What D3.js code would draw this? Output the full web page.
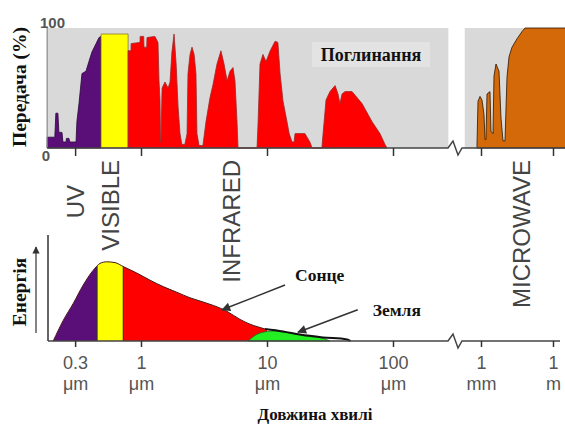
<!DOCTYPE html>
<html>
<head>
<meta charset="utf-8">
<script src="https://cdn.jsdelivr.net/npm/d3@7"></script>
<style>
  body { margin: 0; background: #fff; }
  svg { display: block; }
  .serif { font-family: "Liberation Serif", "Times New Roman", serif; font-weight: bold; fill: #111; }
  .band { font-family: "Liberation Sans", Arial, sans-serif; font-size: 24px; fill: #444; }
</style>
</head>
<body>
<div id="chart"></div>
<script>
// atmospheric transmission, [wavelength µm, %]
const uvTransmission = [[0.18,9],[0.207,9],[0.211,29],[0.219,29],[0.223,13],[0.236,13],[0.24,5],[0.254,5],[0.256,8],[0.268,8],[0.272,5],[0.305,5],[0.31,22],[0.322,37],[0.34,62],[0.366,64],[0.386,72],[0.408,80],[0.44,87],[0.464,92],[0.482,93]];
const visibleTransmission = [[0.482,95],[0.79,95]];
const infraredTransmission = [[0.79,81],[0.833,81],[0.835,87],[0.982,88],[0.985,93],[1.05,93],[1.056,84],[1.11,84],[1.116,92],[1.29,93],[1.364,88],[1.39,56],[1.415,40],[1.43,5],[1.44,5],[1.47,50],[1.55,55],[1.64,50],[1.7,55],[1.76,80],[1.83,95],[1.9,70],[1.97,34],[2.04,12],[2.11,3],[2.23,3],[2.32,12],[2.36,62],[2.45,78],[2.54,84],[2.64,78],[2.73,62],[2.78,12],[2.89,2],[3.1,2],[3.28,22],[3.53,42],[3.73,53],[4.01,70],[4.31,81],[4.56,70],[4.82,56],[5.09,64],[5.37,67],[5.57,56],[5.78,22],[5.89,0],[8.33,0],[8.49,20],[8.8,70],[9.29,78],[9.82,72],[10.6,81],[11.6,89],[12.2,88],[12.7,62],[13.4,39],[14.4,22],[15,12],[15.8,5],[16.4,5],[16.7,12],[20,12],[21.9,5],[22.8,0],[27.3,0],[27.4,3],[29.4,40],[31.6,47],[34.7,52],[36.6,45],[37.9,37],[39.4,45],[41.6,47],[47.3,47],[56.8,37],[68.1,22],[78.8,12],[86.4,3],[89.6,0]];
// [wavelength mm, %]
const microwaveTransmission = [[0.68,2],[0.75,39],[0.91,43],[1.1,40],[1.33,28],[1.47,7],[1.61,7],[1.78,45],[2.37,47],[2.61,14],[3.16,12],[3.48,60],[4.22,70],[5.62,64],[6.81,25],[8.25,6],[10,6],[12.1,59],[14.7,76],[19.6,84],[31.6,91],[51.1,97],[68.1,100],[5000,100]];

// radiated energy, [wavelength µm, relative]
const sunEnergy = [[0.201,0],[0.242,26],[0.29,47],[0.348,70],[0.431,91],[0.473,97],[0.535,99],[0.622,98],[0.724,93],[0.925,85],[1.18,76],[1.5,68],[1.92,61],[2.45,54],[2.94,50],[4.82,37],[6.11,27],[7.33,21],[8.33,18],[9.64,15],[13.4,12],[18.3,8],[27.8,4.5],[43.2,2],[46,0]];
const earthEnergy = [[7.07,0],[8.03,7],[9.29,11],[11.2,12.5],[15.2,10],[20.8,6],[27.8,3.5],[29.9,1.5],[31.6,0]];
const sunBands = [
  { from: 0.2, to: 0.448, color: "#5a0f78" },
  { from: 0.448, to: 0.724, color: "#ffff00" },
  { from: 0.724, to: 10, color: "#ff0000" }
];

const umTicks = [0.3, 1, 10, 100];
const umTickLabels = ["0.3", "1", "10", "100"];
const mmTicks = [1, 1000];
const mmTickLabels = ["1", "1"];
const mmTickUnits = ["mm", "m"];
const bandNames = ["UV", "VISIBLE", "INFRARED", "MICROWAVE"];

const width = 565, height = 424;
const svg = d3.select("#chart").append("svg")
  .attr("width", width).attr("height", height);

const xUm = d3.scaleLog().domain([1, 100]).range([141, 393]);
const xMm = d3.scaleLog().domain([1, 1000]).range([481, 553]);
const yTrans = d3.scaleLinear().domain([0, 100]).range([148, 28]);
const yEnergy = d3.scaleLinear().domain([0, 100]).range([341, 261]);

const defs = svg.append("defs");
defs.append("marker").attr("id", "head")
  .attr("viewBox", "0 0 10 10").attr("refX", 9).attr("refY", 5)
  .attr("markerWidth", 7).attr("markerHeight", 6).attr("orient", "auto")
  .append("path").attr("d", "M0,0L10,5L0,10z").attr("fill", "#333");

function breakLine(g, y, x0, x1) {
  const bx = 449;
  g.append("path")
    .attr("d", d3.line()([[x0, y], [bx - 1, y], [bx + 4, y - 7], [bx + 9, y + 7], [bx + 13, y], [x1, y]]))
    .attr("fill", "none").attr("stroke", "#444").attr("stroke-width", 1.5);
}

function ticks(g, scale, values, y, size, labels, units) {
  const axis = d3.axisBottom(scale).tickValues(values).tickSize(size).tickSizeOuter(0).tickFormat("");
  const a = g.append("g").attr("transform", `translate(0,${y})`).call(axis);
  a.select(".domain").remove();
  a.selectAll(".tick text").remove();
  a.selectAll(".tick line").attr("stroke", "#333").attr("stroke-width", 1.5);
  if (!labels) return;
  const t = a.selectAll(".tick").append("text")
    .attr("font-family", "\"Liberation Sans\", Arial, sans-serif").attr("font-size", 18)
    .attr("fill", "#555").attr("text-anchor", "middle").attr("y", 28);
  t.append("tspan").attr("x", 0).text((d, i) => labels[i]);
  t.append("tspan").attr("x", 0).attr("dy", 21).text((d, i) => units[i]);
}

// ---------- top: transmission ----------
const topG = svg.append("g");
topG.append("rect")
  .attr("x", xUm(0.18)).attr("y", yTrans(100))
  .attr("width", xUm(275) - xUm(0.18)).attr("height", yTrans(0) - yTrans(100))
  .attr("fill", "#d9d9d9");
topG.append("rect")
  .attr("x", xMm(0.21)).attr("y", yTrans(100))
  .attr("width", width - xMm(0.21)).attr("height", yTrans(0) - yTrans(100))
  .attr("fill", "#d9d9d9");
topG.append("rect").attr("x", 312).attr("y", 42).attr("width", 118).attr("height", 25).attr("fill", "#e3e3e3");
topG.append("text").attr("class", "serif").attr("x", 371).attr("y", 61)
  .attr("text-anchor", "middle").attr("font-size", 18).text("Поглинання");

const transArea = x => d3.area().x(d => x(d[0])).y0(yTrans(0)).y1(d => yTrans(d[1]));
[
  { data: uvTransmission, x: xUm, fill: "#5a0f78", stroke: "#2a0638" },
  { data: visibleTransmission, x: xUm, fill: "#ffff00", stroke: "#8a7a30" },
  { data: infraredTransmission, x: xUm, fill: "#ff0000", stroke: "#9a2a2a" },
  { data: microwaveTransmission, x: xMm, fill: "#d4690a", stroke: "#2a1500" }
].forEach(s => {
  topG.append("path").datum(s.data)
    .attr("d", transArea(s.x))
    .attr("fill", s.fill).attr("stroke", s.stroke).attr("stroke-width", 0.8);
});
topG.append("line").attr("x1", xUm(0.18)).attr("x2", xUm(0.18))
  .attr("y1", yTrans(100)).attr("y2", yTrans(0)).attr("stroke", "#888").attr("stroke-width", 1.2);
breakLine(topG, yTrans(0), xUm(0.18), width);
ticks(topG, xUm, umTicks, yTrans(0), 8);
ticks(topG, xMm, mmTicks, yTrans(0), 8);
topG.append("text").attr("x", 65).attr("y", 28).attr("text-anchor", "end")
  .attr("font-family", "\"Liberation Sans\", Arial, sans-serif").attr("font-weight", "bold")
  .attr("font-size", 15).attr("fill", "#555").text("100");
topG.append("text").attr("x", 46).attr("y", 161).attr("text-anchor", "middle")
  .attr("font-family", "\"Liberation Sans\", Arial, sans-serif").attr("font-weight", "bold")
  .attr("font-size", 15).attr("fill", "#555").text("0");
topG.append("text").attr("class", "serif").attr("font-size", 19.5)
  .attr("transform", "translate(26,87) rotate(-90)").attr("text-anchor", "middle").text("Передача (%)");

// ---------- band names ----------
const bandPos = [
  { x: xUm(0.3), y: 185 }, { x: xUm(0.57), y: 160 },
  { x: xUm(5.2), y: 160 }, { x: xMm(50), y: 160 }
];
svg.selectAll(".band").data(bandNames).enter().append("text")
  .attr("class", "band")
  .attr("transform", (d, i) => `translate(${bandPos[i].x + 8.5},${bandPos[i].y}) rotate(-90)`)
  .attr("text-anchor", "end")
  .text(d => d);

// ---------- bottom: energy ----------
const bottomG = svg.append("g");
const sunArea = d3.area().curve(d3.curveMonotoneX)
  .x(d => xUm(d[0])).y0(yEnergy(0)).y1(d => yEnergy(d[1]));
defs.append("clipPath").attr("id", "sunClip")
  .append("path").datum(sunEnergy).attr("d", sunArea);
const sunG = bottomG.append("g").attr("clip-path", "url(#sunClip)");
sunG.selectAll("rect").data(sunBands).enter().append("rect")
  .attr("x", d => xUm(d.from)).attr("width", d => xUm(d.to) - xUm(d.from))
  .attr("y", yEnergy(110)).attr("height", yEnergy(0) - yEnergy(110))
  .attr("fill", d => d.color);
sunG.selectAll("line").data(sunBands.slice(1)).enter().append("line")
  .attr("x1", d => xUm(d.from)).attr("x2", d => xUm(d.from))
  .attr("y1", yEnergy(0)).attr("y2", yEnergy(110))
  .attr("stroke", "#333").attr("stroke-width", 1.2);
bottomG.append("path").datum(sunEnergy.filter(d => d[0] < 10))
  .attr("d", d3.line().curve(d3.curveMonotoneX).x(d => xUm(d[0])).y(d => yEnergy(d[1])))
  .attr("fill", "none").attr("stroke", "#4a1a1a").attr("stroke-width", 1);
bottomG.append("path").datum(earthEnergy)
  .attr("d", d3.area().curve(d3.curveMonotoneX).x(d => xUm(d[0])).y0(yEnergy(0)).y1(d => yEnergy(d[1])))
  .attr("fill", "#22ee22").attr("stroke", "#1a6a1a").attr("stroke-width", 0.8);
bottomG.append("path").datum(sunEnergy.filter(d => d[0] >= 9))
  .attr("d", d3.line().curve(d3.curveMonotoneX).x(d => xUm(d[0])).y(d => yEnergy(d[1])))
  .attr("fill", "none").attr("stroke", "#111").attr("stroke-width", 2);

bottomG.append("line").attr("x1", 48).attr("x2", 48).attr("y1", 235).attr("y2", yEnergy(0))
  .attr("stroke", "#333").attr("stroke-width", 1.5);
bottomG.append("line").attr("x1", 36).attr("x2", 36).attr("y1", 333).attr("y2", 247)
  .attr("stroke", "#333").attr("stroke-width", 1.2).attr("marker-end", "url(#head)");
breakLine(bottomG, yEnergy(0), 48, 560);
ticks(bottomG, xUm, umTicks, yEnergy(0), 6, umTickLabels, umTicks.map(() => "\u03bcm"));
ticks(bottomG, xMm, mmTicks, yEnergy(0), 6, mmTickLabels, mmTickUnits);

bottomG.append("text").attr("class", "serif").attr("font-size", 19.5)
  .attr("transform", "translate(26,292) rotate(-90)").attr("text-anchor", "middle").text("Енергія");
bottomG.append("text").attr("class", "serif").attr("font-size", 17)
  .attr("x", 315).attr("y", 420).attr("text-anchor", "middle").text("Довжина хвилі");

const annotations = [
  { label: "Сонце", text: [16.7, 75], tail: [13.9, 70], head: [4.4, 39] },
  { label: "Земля", text: [69, 31], tail: [52.5, 39], head: [17.6, 11] }
];
annotations.forEach(a => {
  bottomG.append("line")
    .attr("x1", xUm(a.tail[0])).attr("y1", yEnergy(a.tail[1]))
    .attr("x2", xUm(a.head[0])).attr("y2", yEnergy(a.head[1]))
    .attr("stroke", "#333").attr("stroke-width", 1.5).attr("marker-end", "url(#head)");
  bottomG.append("text").attr("class", "serif").attr("font-size", 17.5)
    .attr("x", xUm(a.text[0])).attr("y", yEnergy(a.text[1])).text(a.label);
});
</script>
</body>
</html>
